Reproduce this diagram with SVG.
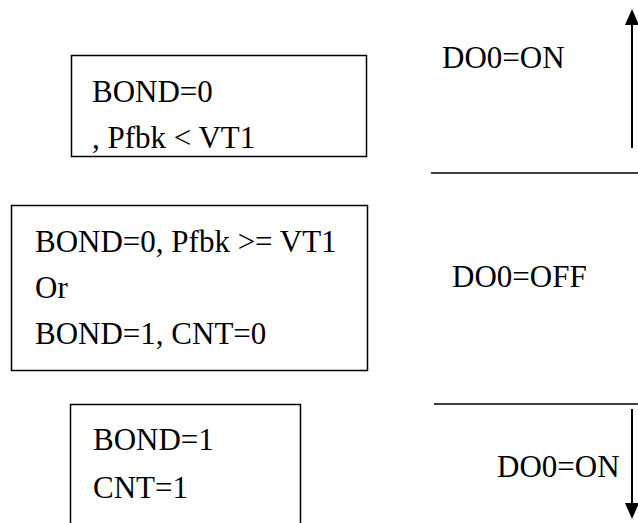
<svg xmlns="http://www.w3.org/2000/svg" width="638" height="523" viewBox="0 0 638 523">
<defs>
<style>
.box{fill:#fff;stroke:#000;stroke-width:1.5}
.t{font-family:"Liberation Serif","Times New Roman",serif;font-size:31px;fill:#000}
.ln{stroke:#000;stroke-width:1.5;fill:none}
.ar{stroke:#000;stroke-width:2;fill:none}
</style>
</defs>
<rect width="638" height="523" fill="#fff"/>
<g id="cond1">
<rect class="box" x="71.5" y="55.5" width="295" height="101"/>
<text class="t" x="92" y="102">BOND=0</text>
<text class="t" x="92" y="148">, Pfbk &lt; VT1</text>
</g>
<g id="cond2">
<rect class="box" x="11.5" y="205.5" width="356" height="165"/>
<text class="t" x="35" y="252">BOND=0, Pfbk &gt;= VT1</text>
<text class="t" x="35" y="298">Or</text>
<text class="t" x="35" y="344">BOND=1, CNT=0</text>
</g>
<g id="cond3">
<path class="box" d="M70.5,530 V404.5 H300.5 V530"/>
<text class="t" x="93" y="450">BOND=1</text>
<text class="t" x="93" y="498">CNT=1</text>
</g>
<g id="out1"><text class="t" x="442" y="68">DO0=ON</text></g>
<g id="out2"><text class="t" x="452" y="287">DO0=OFF</text></g>
<g id="out3"><text class="t" x="497" y="477">DO0=ON</text></g>
<g id="connectors">
<line class="ln" x1="431" y1="173" x2="638" y2="173"/>
<line class="ln" x1="434" y1="404" x2="638" y2="404"/>
<path d="M632,148 V25" class="ar"/>
<path d="M625,25 L632,9 L639,25 Z" fill="#000"/>
<path d="M632,409 V503" class="ar"/>
<path d="M625,503 L632,519 L639,503 Z" fill="#000"/>
</g>
</svg>
